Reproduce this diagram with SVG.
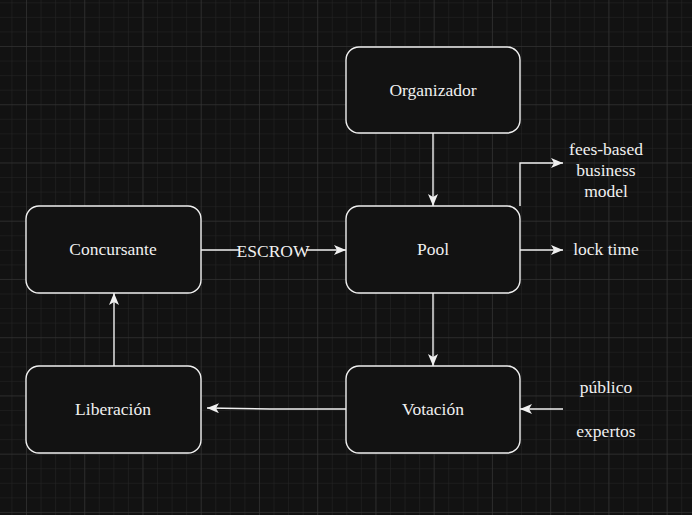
<svg xmlns="http://www.w3.org/2000/svg" width="692" height="515" viewBox="0 0 692 515">
<style>
.node rect{fill:#121212;stroke:#f0f0f0;stroke-width:1.4}
text{font-family:"Liberation Serif","Times New Roman",serif;font-size:17.5px;fill:#f0f0f0;text-anchor:middle;dominant-baseline:central}
.edge{fill:none;stroke:#f0f0f0;stroke-width:1.4}
</style>
<defs>
<pattern id="minor" x="26" y="46" width="14.56" height="14.56" patternUnits="userSpaceOnUse">
<path d="M0 0H14.56M0 0V14.56" fill="none" stroke="#262626" stroke-width="1"/>
</pattern>
<pattern id="major" x="26" y="46" width="58.24" height="58.24" patternUnits="userSpaceOnUse">
<path d="M0 0H58.24M0 0V58.24" fill="none" stroke="#383838" stroke-width="1"/>
</pattern>
<marker id="arr" viewBox="0 0 12 10" refX="12" refY="5" markerWidth="12" markerHeight="10" markerUnits="userSpaceOnUse" orient="auto">
<path d="M0 0L12 5L0 10L3 5Z" fill="#f0f0f0"/>
</marker>
</defs>
<rect width="692" height="515" fill="#121212"/>
<rect width="692" height="515" fill="url(#minor)"/>
<rect width="692" height="515" fill="url(#major)"/>
<g id="connectors">
<path class="edge" d="M433 133V206" marker-end="url(#arr)"/>
<path class="edge" d="M201 250H346" marker-end="url(#arr)"/>
<rect x="240" y="241" width="66" height="19" fill="#121212"/>
<text x="273" y="251" font-size="15.5">ESCROW</text>
<path class="edge" d="M433 293V366" marker-end="url(#arr)"/>
<path class="edge" d="M346 409H270L207 408" marker-end="url(#arr)"/>
<path class="edge" d="M114 366V293" marker-end="url(#arr)"/>
<path class="edge" d="M520 250H563" marker-end="url(#arr)"/>
<path class="edge" d="M520 206V163H563" marker-end="url(#arr)"/>
<path class="edge" d="M563 409H520" marker-end="url(#arr)"/>
</g>
<g id="organizador" class="node"><rect x="346" y="47" width="174" height="86" rx="13"/><text x="433" y="90">Organizador</text></g>
<g id="pool" class="node"><rect x="346" y="206" width="174" height="87" rx="13"/><text x="433" y="249">Pool</text></g>
<g id="concursante" class="node"><rect x="26" y="206" width="175" height="87" rx="13"/><text x="113" y="249">Concursante</text></g>
<g id="votacion" class="node"><rect x="346" y="366" width="174" height="87" rx="13"/><text x="433" y="409">Votación</text></g>
<g id="liberacion" class="node"><rect x="26" y="366" width="175" height="87" rx="13"/><text x="113" y="409">Liberación</text></g>
<g id="fees"><text x="606" y="149">fees-based</text><text x="606" y="170">business</text><text x="606" y="191">model</text></g>
<g id="locktime"><text x="606" y="249">lock time</text></g>
<g id="publico"><text x="606" y="387">público</text></g>
<g id="expertos"><text x="606" y="431">expertos</text></g>
</svg>
